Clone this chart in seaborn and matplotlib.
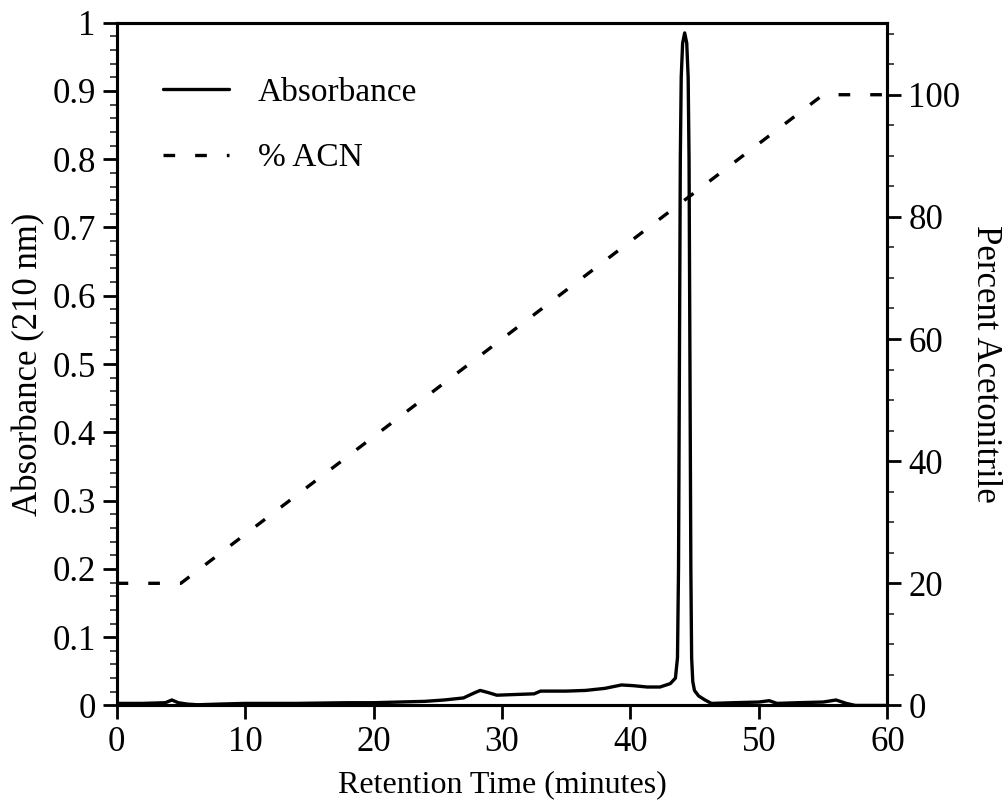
import matplotlib.pyplot as plt
from matplotlib.ticker import MultipleLocator
import seaborn as sns
import numpy as np

# absorbance trace (210 nm)
time_abs = [0, 2, 3.8, 4.3, 4.8, 5.5, 6.3, 8, 10, 14, 18, 20, 22, 24, 25.5, 27,
            27.8, 28.3, 28.9, 29.6, 31, 32.5, 33, 35, 36.5, 38, 39.3, 40.2, 41.3,
            42.3, 43.1, 43.5, 43.66, 43.74, 43.81, 43.88, 43.95, 44.06, 44.22,
            44.38, 44.49, 44.56, 44.63, 44.7, 44.76, 44.85, 44.98, 45.3, 45.8,
            46.3, 48, 50, 50.8, 51.4, 53, 55, 56, 56.8, 57.5, 60]
absorbance = [0.003, 0.003, 0.004, 0.008, 0.004, 0.002, 0.001, 0.002, 0.003, 0.003,
              0.004, 0.004, 0.005, 0.006, 0.008, 0.011, 0.018, 0.022, 0.019, 0.015,
              0.016, 0.017, 0.021, 0.021, 0.022, 0.025, 0.030, 0.029, 0.027, 0.027,
              0.032, 0.040, 0.07, 0.20, 0.50, 0.80, 0.92, 0.97, 0.985, 0.97, 0.92,
              0.80, 0.50, 0.20, 0.07, 0.035, 0.022, 0.014, 0.008, 0.003, 0.004,
              0.005, 0.007, 0.003, 0.004, 0.005, 0.008, 0.003, 0.0, 0.0]

# acetonitrile gradient
time_acn = [0, 5, 55, 60]
percent_acn = [20, 20, 100, 100]

sns.set_style("ticks")
plt.rcParams['font.family'] = ['Liberation Serif', 'DejaVu Serif']
plt.rcParams['text.color'] = 'black'
plt.rcParams['axes.labelcolor'] = 'black'

fig = plt.figure(figsize=(10.05, 8.09), dpi=100)
ax = fig.add_axes([0.116, 0.128, 0.767, 0.844])
ax2 = ax.twinx()

sns.lineplot(x=time_abs, y=absorbance, ax=ax, color='black', lw=2.4,
             label='Absorbance', legend=False)
sns.lineplot(x=time_acn, y=percent_acn, ax=ax2, color='black', lw=2.4,
             linestyle=(0, (3.5, 6.0)), label='% ACN', legend=False)

ax.set_xlim(0, 60)
ax.set_ylim(0, 1)
ax2.set_ylim(0, 111.8)

ax.xaxis.set_major_locator(MultipleLocator(10))
ax.yaxis.set_minor_locator(MultipleLocator(0.02))
ax2.yaxis.set_major_locator(MultipleLocator(20))
ax2.yaxis.set_minor_locator(MultipleLocator(5))

ax.set_yticks(np.arange(0, 1.01, 0.1))
ax.set_yticklabels(['0'] + [f'{v:.1f}' for v in np.arange(0.1, 0.95, 0.1)] + ['1'])

for a in (ax, ax2):
    for s in a.spines.values():
        s.set_linewidth(2.2)
        s.set_color('black')
ax.tick_params(axis='both', which='major', direction='out', length=10, width=2,
               labelsize=25, colors='black', pad=5)
ax.tick_params(axis='y', which='minor', direction='out', length=5, width=1.2)
ax2.tick_params(axis='y', which='major', direction='out', length=10, width=2,
                labelsize=25, colors='black', pad=5)
ax2.tick_params(axis='y', which='minor', direction='out', length=5, width=1.2)

ax.set_xlabel('Retention Time (minutes)', fontsize=23, labelpad=8, color='black')
ax.set_ylabel('Absorbance (210 nm)', fontsize=25, labelpad=5, color='black')
ax2.set_ylabel('Percent Acetonitrile', fontsize=25, rotation=270, labelpad=30,
               color='black')

h1, l1 = ax.get_legend_handles_labels()
h2, l2 = ax2.get_legend_handles_labels()
leg = ax.legend(h1 + h2, l1 + l2, loc='upper left', bbox_to_anchor=(0.06, 0.92),
                frameon=False, fontsize=24, handlelength=2.0, handletextpad=0.85,
                labelspacing=1.05, borderaxespad=0, borderpad=0)
for t in leg.get_texts():
    t.set_color('black')

fig.savefig('out.png', dpi=100)
